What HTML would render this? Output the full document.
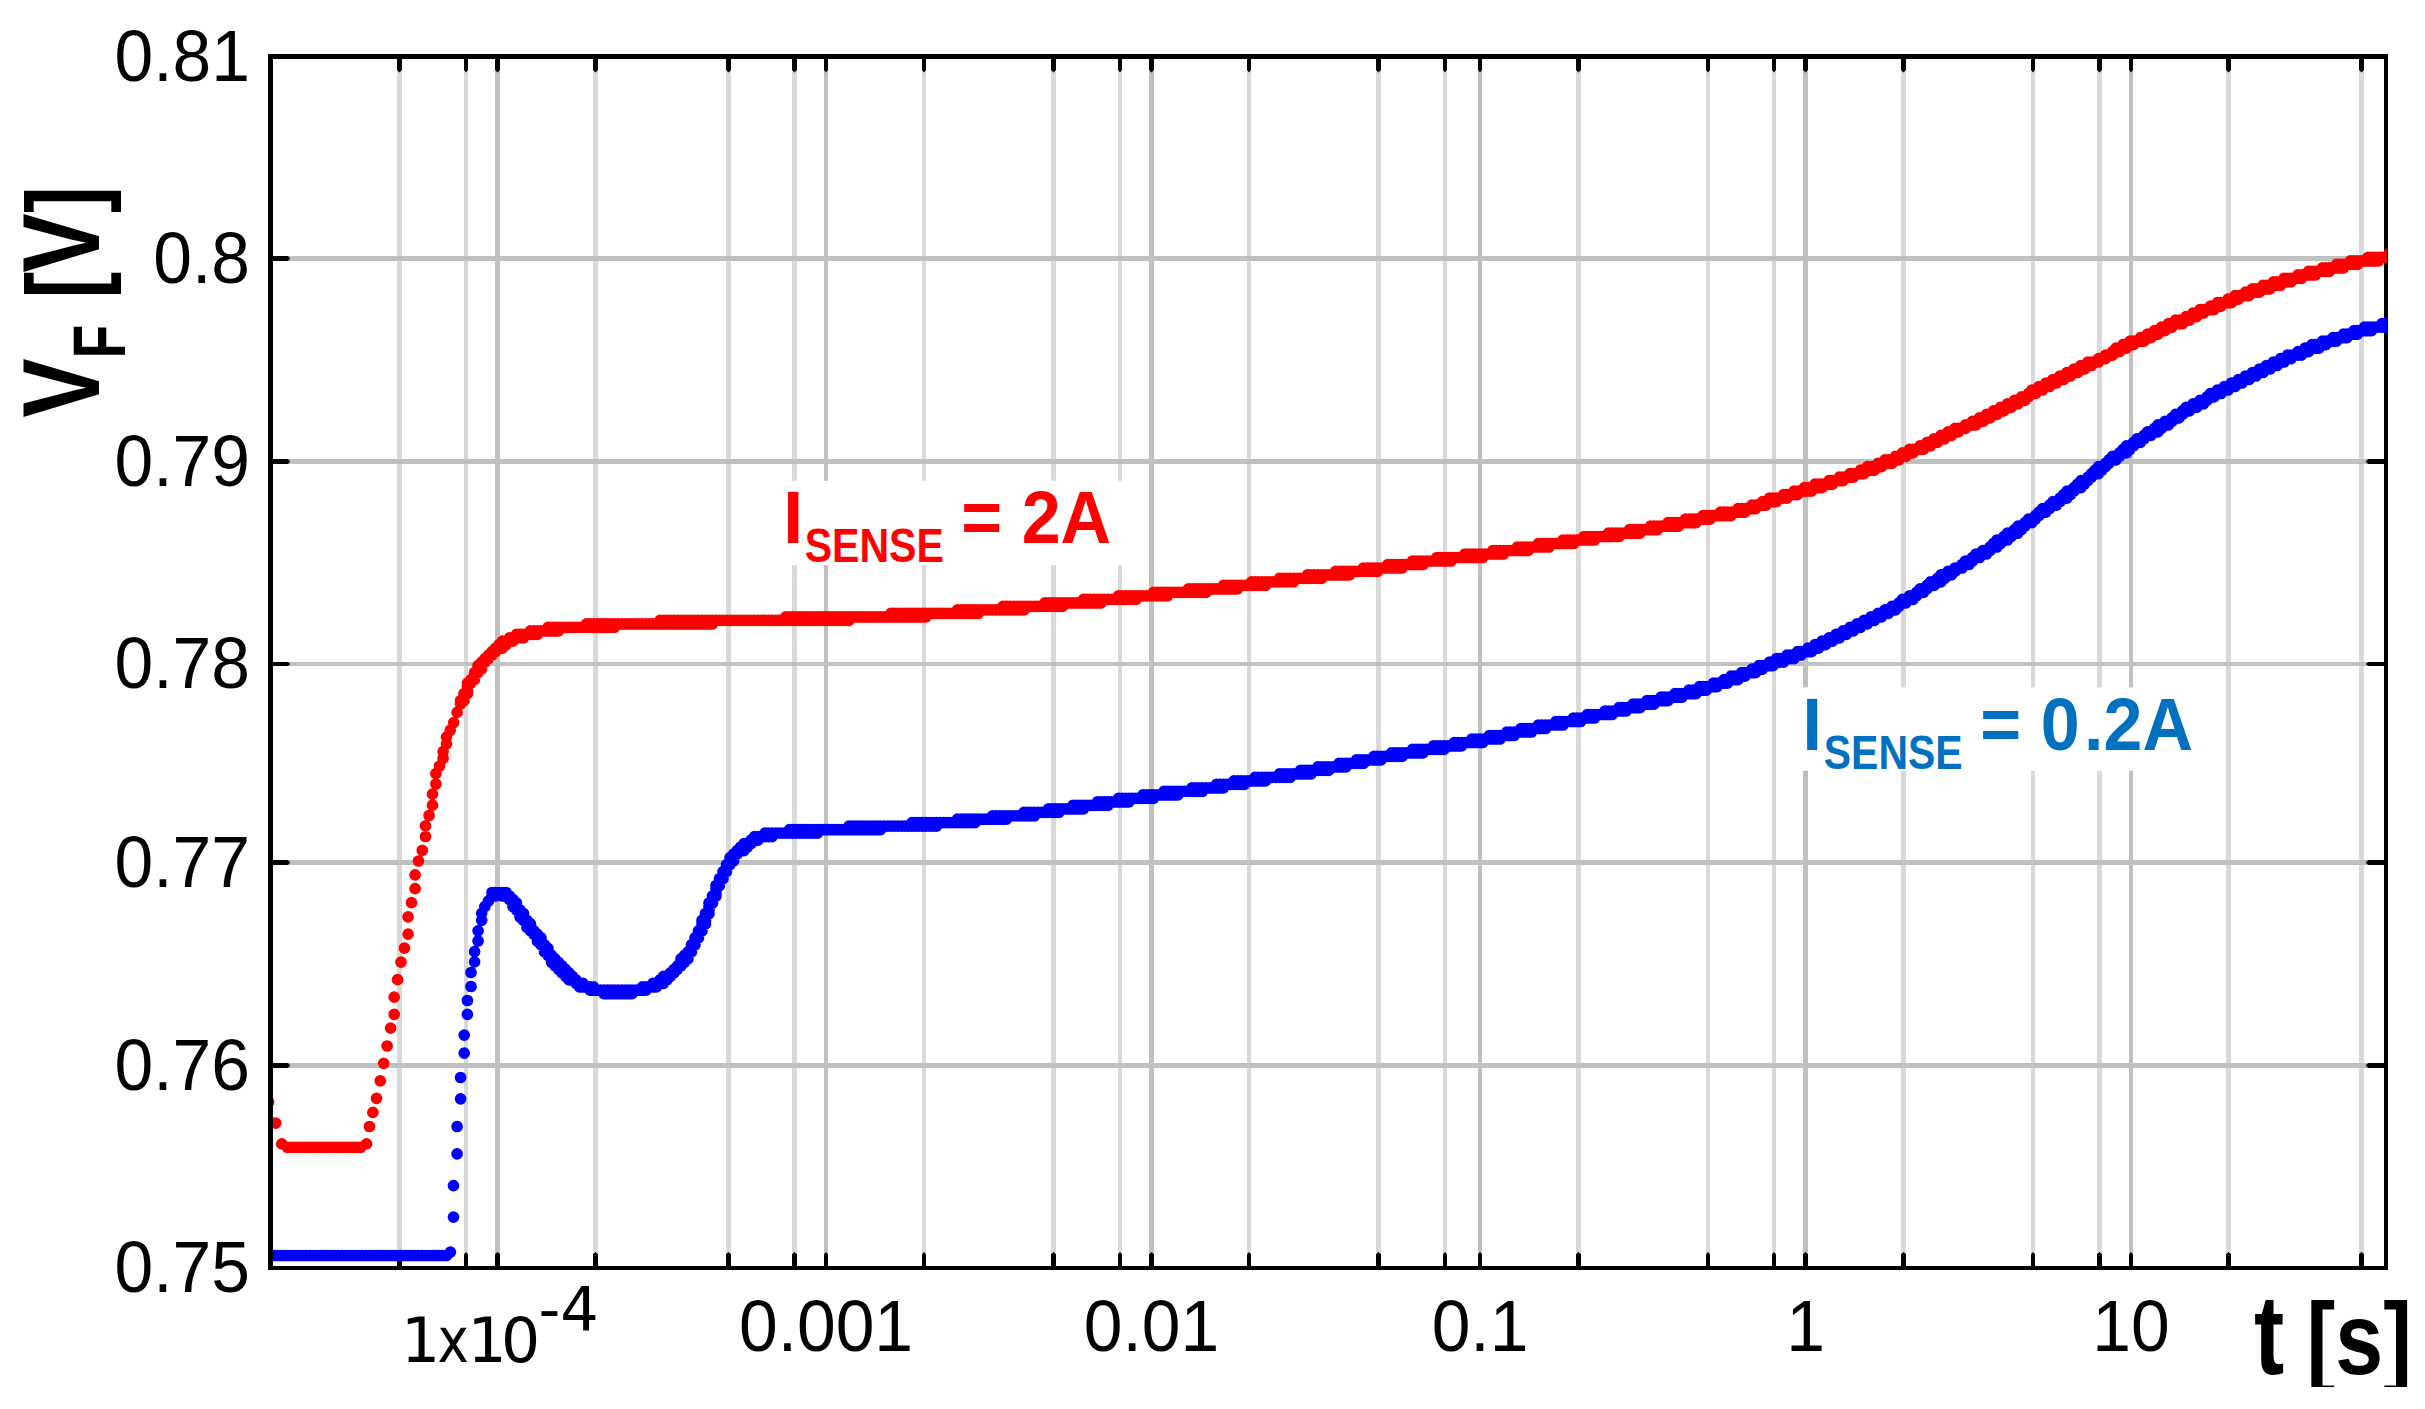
<!DOCTYPE html>
<html lang="en"><head><meta charset="utf-8"><title>VF vs t</title>
<style>html,body{margin:0;padding:0;background:#fff;overflow:hidden}svg{display:block}text{font-family:"Liberation Sans",sans-serif}.dv{font-family:"DejaVu Sans","Liberation Sans",sans-serif}</style></head><body>
<svg width="2425" height="1409" viewBox="0 0 2425 1409">
<rect width="2425" height="1409" fill="#fff"/>
<g fill="#d9d9d9"><rect x="397" y="59" width="5" height="1207"/><rect x="464" y="59" width="4" height="1207"/><rect x="593" y="59" width="5" height="1207"/><rect x="726" y="59" width="5" height="1207"/><rect x="792" y="59" width="5" height="1207"/><rect x="922" y="59" width="4" height="1207"/><rect x="1051" y="59" width="5" height="1207"/><rect x="1118" y="59" width="4" height="1207"/><rect x="1247" y="59" width="4" height="1207"/><rect x="1376" y="59" width="5" height="1207"/><rect x="1443" y="59" width="4" height="1207"/><rect x="1576" y="59" width="5" height="1207"/><rect x="1706" y="59" width="4" height="1207"/><rect x="1772" y="59" width="4" height="1207"/><rect x="1901" y="59" width="5" height="1207"/><rect x="2031" y="59" width="4" height="1207"/><rect x="2097" y="59" width="5" height="1207"/><rect x="2226" y="59" width="5" height="1207"/><rect x="2359" y="59" width="5" height="1207"/></g>
<g fill="#c0c0c0"><rect x="495" y="59" width="5" height="1207"/><rect x="824" y="59" width="4" height="1207"/><rect x="1149" y="59" width="5" height="1207"/><rect x="1478" y="59" width="4" height="1207"/><rect x="1803" y="59" width="5" height="1207"/><rect x="2129" y="59" width="4" height="1207"/><rect x="273" y="256" width="2111" height="5"/><rect x="273" y="459" width="2111" height="5"/><rect x="273" y="662" width="2111" height="4"/><rect x="273" y="860" width="2111" height="5"/><rect x="273" y="1063" width="2111" height="5"/></g>
<g fill="#000"><rect x="268" y="54" width="5" height="1216"/><rect x="2384" y="54" width="4" height="1216"/><rect x="268" y="54" width="2120" height="5"/><rect x="268" y="1266" width="2120" height="4"/><path d="M397 59H402V70L399.5 72.4L397 70Z"/><path d="M397 1266H402V1254.3L399.5 1252L397 1254.3Z"/><path d="M464 59H468V70L466.0 72.4L464 70Z"/><path d="M464 1266H468V1254.3L466.0 1252L464 1254.3Z"/><path d="M593 59H598V70L595.5 72.4L593 70Z"/><path d="M593 1266H598V1254.3L595.5 1252L593 1254.3Z"/><path d="M726 59H731V70L728.5 72.4L726 70Z"/><path d="M726 1266H731V1254.3L728.5 1252L726 1254.3Z"/><path d="M792 59H797V70L794.5 72.4L792 70Z"/><path d="M792 1266H797V1254.3L794.5 1252L792 1254.3Z"/><path d="M922 59H926V70L924.0 72.4L922 70Z"/><path d="M922 1266H926V1254.3L924.0 1252L922 1254.3Z"/><path d="M1051 59H1056V70L1053.5 72.4L1051 70Z"/><path d="M1051 1266H1056V1254.3L1053.5 1252L1051 1254.3Z"/><path d="M1118 59H1122V70L1120.0 72.4L1118 70Z"/><path d="M1118 1266H1122V1254.3L1120.0 1252L1118 1254.3Z"/><path d="M1247 59H1251V70L1249.0 72.4L1247 70Z"/><path d="M1247 1266H1251V1254.3L1249.0 1252L1247 1254.3Z"/><path d="M1376 59H1381V70L1378.5 72.4L1376 70Z"/><path d="M1376 1266H1381V1254.3L1378.5 1252L1376 1254.3Z"/><path d="M1443 59H1447V70L1445.0 72.4L1443 70Z"/><path d="M1443 1266H1447V1254.3L1445.0 1252L1443 1254.3Z"/><path d="M1576 59H1581V70L1578.5 72.4L1576 70Z"/><path d="M1576 1266H1581V1254.3L1578.5 1252L1576 1254.3Z"/><path d="M1706 59H1710V70L1708.0 72.4L1706 70Z"/><path d="M1706 1266H1710V1254.3L1708.0 1252L1706 1254.3Z"/><path d="M1772 59H1776V70L1774.0 72.4L1772 70Z"/><path d="M1772 1266H1776V1254.3L1774.0 1252L1772 1254.3Z"/><path d="M1901 59H1906V70L1903.5 72.4L1901 70Z"/><path d="M1901 1266H1906V1254.3L1903.5 1252L1901 1254.3Z"/><path d="M2031 59H2035V70L2033.0 72.4L2031 70Z"/><path d="M2031 1266H2035V1254.3L2033.0 1252L2031 1254.3Z"/><path d="M2097 59H2102V70L2099.5 72.4L2097 70Z"/><path d="M2097 1266H2102V1254.3L2099.5 1252L2097 1254.3Z"/><path d="M2226 59H2231V70L2228.5 72.4L2226 70Z"/><path d="M2226 1266H2231V1254.3L2228.5 1252L2226 1254.3Z"/><path d="M2359 59H2364V70L2361.5 72.4L2359 70Z"/><path d="M2359 1266H2364V1254.3L2361.5 1252L2359 1254.3Z"/><path d="M495 59H500V70L497.5 72.4L495 70Z"/><path d="M495 1266H500V1254.3L497.5 1252L495 1254.3Z"/><path d="M824 59H828V70L826.0 72.4L824 70Z"/><path d="M824 1266H828V1254.3L826.0 1252L824 1254.3Z"/><path d="M1149 59H1154V70L1151.5 72.4L1149 70Z"/><path d="M1149 1266H1154V1254.3L1151.5 1252L1149 1254.3Z"/><path d="M1478 59H1482V70L1480.0 72.4L1478 70Z"/><path d="M1478 1266H1482V1254.3L1480.0 1252L1478 1254.3Z"/><path d="M1803 59H1808V70L1805.5 72.4L1803 70Z"/><path d="M1803 1266H1808V1254.3L1805.5 1252L1803 1254.3Z"/><path d="M2129 59H2133V70L2131.0 72.4L2129 70Z"/><path d="M2129 1266H2133V1254.3L2131.0 1252L2129 1254.3Z"/><path d="M273 256H288L290.2 258.5L288 261H273Z"/><path d="M2384 256H2368L2365.8 258.5L2368 261H2384Z"/><path d="M273 459H288L290.2 461.5L288 464H273Z"/><path d="M2384 459H2368L2365.8 461.5L2368 464H2384Z"/><path d="M273 662H288L290.2 664.0L288 666H273Z"/><path d="M2384 662H2368L2365.8 664.0L2368 666H2384Z"/><path d="M273 860H288L290.2 862.5L288 865H273Z"/><path d="M2384 860H2368L2365.8 862.5L2368 865H2384Z"/><path d="M273 1063H288L290.2 1065.5L288 1068H273Z"/><path d="M2384 1063H2368L2365.8 1065.5L2368 1068H2384Z"/></g>
<defs><clipPath id="pc"><rect x="273" y="59" width="2114.4" height="1207"/></clipPath></defs>
<g clip-path="url(#pc)" fill="none" stroke-linecap="round" stroke-width="11.7"><path stroke="#f00" d="M268.6 1102.2h0M275.7 1123.1h0M281.8 1143.9h0M287.3 1147.3h0M290.8 1147.3h0M294.3 1147.3h0M297.8 1147.3h0M301.3 1147.3h0M304.8 1147.3h0M308.3 1147.3h0M311.8 1147.3h0M315.3 1147.3h0M318.8 1147.3h0M322.3 1147.3h0M325.8 1147.3h0M329.3 1147.3h0M332.8 1147.3h0M336.3 1147.3h0M339.8 1147.3h0M343.3 1147.3h0M346.8 1147.3h0M350.3 1147.3h0M353.8 1147.3h0M357.3 1147.3h0M360.8 1147.3h0M366.5 1143.9h0M369.5 1126.5h0M372.9 1112.4h0M376.5 1098.3h0M380.3 1080.9h0M383.7 1063.3h0M387.1 1046.0h0M390.6 1028.2h0M394.2 1014.3h0M394.2 997.2h0M397.6 979.7h0M401.0 962.2h0M404.4 948.2h0M408.1 934.2h0M408.1 916.8h0M411.5 902.7h0M415.1 888.7h0M415.1 874.9h0M418.5 861.0h0M422.3 850.4h0M425.5 836.5h0M425.5 825.9h0M429.1 815.5h0M432.5 805.1h0M432.5 794.2h0M435.9 784.0h0M435.9 773.7h0M439.5 766.1h0M443.1 758.4h0M443.1 751.6h0M446.5 743.9h0M446.5 737.1h0M450.2 730.3h0M453.7 722.6h0M457.1 712.4h0M460.8 702.2h0M460.5 700.6h0M460.5 704.1h0M464.0 697.1h0M464.0 700.6h0M464.0 693.6h0M467.5 690.1h0M467.5 693.6h0M467.5 686.6h0M467.5 683.1h0M471.0 683.1h0M471.0 679.6h0M474.5 676.1h0M474.5 679.6h0M474.5 672.7h0M478.0 672.7h0M478.0 669.2h0M478.0 665.7h0M481.5 665.7h0M481.5 669.2h0M481.5 662.2h0M485.0 662.2h0M485.0 658.7h0M488.5 658.7h0M488.5 655.2h0M492.0 655.2h0M492.0 651.7h0M495.5 651.7h0M495.5 648.2h0M499.0 648.2h0M499.0 644.7h0M502.5 644.7h0M502.5 648.2h0M502.5 641.2h0M506.0 641.2h0M506.0 644.7h0M509.5 641.2h0M509.5 637.8h0M513.0 637.8h0M513.0 641.2h0M516.5 637.8h0M516.5 634.3h0M520.0 634.3h0M520.0 637.8h0M523.5 634.3h0M523.5 637.8h0M527.0 634.3h0M530.5 630.8h0M530.5 634.3h0M534.0 630.8h0M534.0 634.3h0M537.5 630.8h0M537.5 634.3h0M541.0 630.8h0M544.5 630.8h0M548.0 630.8h0M548.0 627.3h0M551.5 627.3h0M551.5 630.8h0M555.0 627.3h0M555.0 630.8h0M558.5 627.3h0M558.5 630.8h0M562.0 627.3h0M565.5 627.3h0M569.0 627.3h0M572.5 627.3h0M576.0 627.3h0M579.5 627.3h0M583.0 627.3h0M586.5 627.3h0M586.5 623.8h0M590.0 623.8h0M590.0 627.3h0M593.5 623.8h0M593.5 627.3h0M597.0 623.8h0M597.0 627.3h0M600.5 623.8h0M600.5 627.3h0M604.0 623.8h0M604.0 627.3h0M607.5 623.8h0M607.5 627.3h0M611.0 623.8h0M611.0 627.3h0M614.5 623.8h0M614.5 627.3h0M618.0 623.8h0M621.5 623.8h0M625.0 623.8h0M628.5 623.8h0M632.0 623.8h0M635.5 623.8h0M639.0 623.8h0M642.5 623.8h0M646.0 623.8h0M649.5 623.8h0M653.0 623.8h0M656.5 623.8h0M660.0 620.3h0M660.0 623.8h0M663.5 620.3h0M663.5 623.8h0M667.0 620.3h0M667.0 623.8h0M670.5 620.3h0M670.5 623.8h0M674.0 620.3h0M674.0 623.8h0M677.5 620.3h0M677.5 623.8h0M681.0 620.3h0M681.0 623.8h0M684.5 620.3h0M684.5 623.8h0M688.0 620.3h0M688.0 623.8h0M691.5 620.3h0M691.5 623.8h0M695.0 620.3h0M695.0 623.8h0M698.5 620.3h0M698.5 623.8h0M702.0 620.3h0M702.0 623.8h0M705.5 620.3h0M705.5 623.8h0M709.0 620.3h0M709.0 623.8h0M712.5 620.3h0M712.5 623.8h0M716.0 620.3h0M719.5 620.3h0M723.0 620.3h0M726.5 620.3h0M730.0 620.3h0M733.5 620.3h0M737.0 620.3h0M740.5 620.3h0M744.0 620.3h0M747.5 620.3h0M751.0 620.3h0M754.5 620.3h0M758.0 620.3h0M761.5 620.3h0M765.0 620.3h0M768.5 620.3h0M772.0 620.3h0M775.5 620.3h0M779.0 620.3h0M782.5 620.3h0M786.0 620.3h0M786.0 616.8h0M789.5 616.8h0M789.5 620.3h0M793.0 616.8h0M793.0 620.3h0M796.5 616.8h0M796.5 620.3h0M800.0 616.8h0M800.0 620.3h0M803.5 616.8h0M803.5 620.3h0M807.0 616.8h0M807.0 620.3h0M810.5 616.8h0M810.5 620.3h0M814.0 616.8h0M814.0 620.3h0M817.5 616.8h0M817.5 620.3h0M821.0 616.8h0M821.0 620.3h0M824.5 616.8h0M824.5 620.3h0M828.0 616.8h0M828.0 620.3h0M831.5 616.8h0M831.5 620.3h0M835.0 616.8h0M835.0 620.3h0M838.5 616.8h0M838.5 620.3h0M842.0 616.8h0M842.0 620.3h0M845.5 616.8h0M845.5 620.3h0M849.0 616.8h0M849.0 620.3h0M852.5 616.8h0M856.0 616.8h0M859.5 616.8h0M863.0 616.8h0M866.5 616.8h0M870.0 616.8h0M873.5 616.8h0M877.0 616.8h0M880.5 616.8h0M884.0 616.8h0M887.5 616.8h0M891.0 616.8h0M891.0 613.3h0M894.5 613.3h0M894.5 616.8h0M898.0 613.3h0M898.0 616.8h0M901.5 613.3h0M901.5 616.8h0M905.0 613.3h0M905.0 616.8h0M908.5 613.3h0M908.5 616.8h0M912.0 613.3h0M912.0 616.8h0M915.5 613.3h0M915.5 616.8h0M919.0 613.3h0M919.0 616.8h0M922.5 613.3h0M922.5 616.8h0M926.0 613.3h0M926.0 616.8h0M929.5 613.3h0M933.0 613.3h0M936.5 613.3h0M940.0 613.3h0M943.5 613.3h0M947.0 613.3h0M950.5 613.3h0M954.0 613.3h0M957.5 609.8h0M957.5 613.3h0M961.0 609.8h0M961.0 613.3h0M964.5 609.8h0M964.5 613.3h0M968.0 609.8h0M968.0 613.3h0M971.5 609.8h0M971.5 613.3h0M975.0 609.8h0M975.0 613.3h0M978.5 609.8h0M978.5 613.3h0M982.0 609.8h0M985.5 609.8h0M989.0 609.8h0M992.5 609.8h0M996.0 609.8h0M999.5 609.8h0M1003.0 609.8h0M1003.0 606.3h0M1006.5 606.3h0M1006.5 609.8h0M1010.0 606.3h0M1010.0 609.8h0M1013.5 606.3h0M1013.5 609.8h0M1017.0 606.3h0M1017.0 609.8h0M1020.5 606.3h0M1020.5 609.8h0M1024.0 606.3h0M1024.0 609.8h0M1027.5 606.3h0M1031.0 606.3h0M1034.5 606.3h0M1038.0 606.3h0M1041.5 606.3h0M1045.0 602.9h0M1045.0 606.3h0M1048.5 602.9h0M1048.5 606.3h0M1052.0 602.9h0M1052.0 606.3h0M1055.5 602.9h0M1055.5 606.3h0M1059.0 602.9h0M1059.0 606.3h0M1062.5 602.9h0M1062.5 606.3h0M1066.0 602.9h0M1069.5 602.9h0M1073.0 602.9h0M1076.5 602.9h0M1080.0 602.9h0M1083.5 602.9h0M1083.5 599.4h0M1087.0 599.4h0M1087.0 602.9h0M1090.5 599.4h0M1090.5 602.9h0M1094.0 599.4h0M1094.0 602.9h0M1097.5 599.4h0M1097.5 602.9h0M1101.0 599.4h0M1101.0 602.9h0M1104.5 599.4h0M1108.0 599.4h0M1111.5 599.4h0M1115.0 599.4h0M1118.5 599.4h0M1118.5 595.9h0M1122.0 595.9h0M1122.0 599.4h0M1125.5 595.9h0M1125.5 599.4h0M1129.0 595.9h0M1129.0 599.4h0M1132.5 595.9h0M1132.5 599.4h0M1136.0 595.9h0M1136.0 599.4h0M1139.5 595.9h0M1143.0 595.9h0M1146.5 595.9h0M1150.0 595.9h0M1153.5 595.9h0M1153.5 592.4h0M1157.0 592.4h0M1157.0 595.9h0M1160.5 592.4h0M1160.5 595.9h0M1164.0 592.4h0M1164.0 595.9h0M1167.5 592.4h0M1167.5 595.9h0M1171.0 592.4h0M1174.5 592.4h0M1178.0 592.4h0M1181.5 592.4h0M1185.0 592.4h0M1188.5 592.4h0M1188.5 588.9h0M1192.0 588.9h0M1192.0 592.4h0M1195.5 588.9h0M1195.5 592.4h0M1199.0 588.9h0M1199.0 592.4h0M1202.5 588.9h0M1202.5 592.4h0M1206.0 588.9h0M1206.0 592.4h0M1209.5 588.9h0M1213.0 588.9h0M1216.5 588.9h0M1220.0 588.9h0M1223.5 588.9h0M1223.5 585.4h0M1227.0 585.4h0M1227.0 588.9h0M1230.5 585.4h0M1230.5 588.9h0M1234.0 585.4h0M1234.0 588.9h0M1237.5 585.4h0M1237.5 588.9h0M1241.0 585.4h0M1244.5 585.4h0M1248.0 585.4h0M1251.5 585.4h0M1251.5 581.9h0M1255.0 581.9h0M1255.0 585.4h0M1258.5 581.9h0M1258.5 585.4h0M1262.0 581.9h0M1262.0 585.4h0M1265.5 581.9h0M1265.5 585.4h0M1269.0 581.9h0M1272.5 581.9h0M1276.0 581.9h0M1279.5 581.9h0M1279.5 578.4h0M1283.0 578.4h0M1283.0 581.9h0M1286.5 578.4h0M1286.5 581.9h0M1290.0 578.4h0M1290.0 581.9h0M1293.5 578.4h0M1293.5 581.9h0M1297.0 578.4h0M1300.5 578.4h0M1304.0 578.4h0M1307.5 578.4h0M1307.5 574.9h0M1311.0 574.9h0M1311.0 578.4h0M1314.5 574.9h0M1314.5 578.4h0M1318.0 574.9h0M1318.0 578.4h0M1321.5 574.9h0M1321.5 578.4h0M1325.0 574.9h0M1328.5 574.9h0M1332.0 574.9h0M1335.5 574.9h0M1335.5 571.4h0M1339.0 571.4h0M1339.0 574.9h0M1342.5 571.4h0M1342.5 574.9h0M1346.0 571.4h0M1346.0 574.9h0M1349.5 571.4h0M1349.5 574.9h0M1353.0 571.4h0M1356.5 571.4h0M1360.0 571.4h0M1363.5 571.4h0M1363.5 568.0h0M1367.0 568.0h0M1367.0 571.4h0M1370.5 568.0h0M1370.5 571.4h0M1374.0 568.0h0M1374.0 571.4h0M1377.5 568.0h0M1377.5 571.4h0M1381.0 568.0h0M1384.5 568.0h0M1388.0 568.0h0M1388.0 564.5h0M1391.5 564.5h0M1391.5 568.0h0M1395.0 564.5h0M1395.0 568.0h0M1398.5 564.5h0M1398.5 568.0h0M1402.0 564.5h0M1402.0 568.0h0M1405.5 564.5h0M1409.0 564.5h0M1412.5 564.5h0M1412.5 561.0h0M1416.0 561.0h0M1416.0 564.5h0M1419.5 561.0h0M1419.5 564.5h0M1423.0 561.0h0M1423.0 564.5h0M1426.5 561.0h0M1430.0 561.0h0M1433.5 561.0h0M1437.0 561.0h0M1437.0 557.5h0M1440.5 557.5h0M1440.5 561.0h0M1444.0 557.5h0M1444.0 561.0h0M1447.5 557.5h0M1447.5 561.0h0M1451.0 557.5h0M1451.0 561.0h0M1454.5 557.5h0M1458.0 557.5h0M1461.5 557.5h0M1465.0 557.5h0M1465.0 554.0h0M1468.5 554.0h0M1468.5 557.5h0M1472.0 554.0h0M1472.0 557.5h0M1475.5 554.0h0M1475.5 557.5h0M1479.0 554.0h0M1479.0 557.5h0M1482.5 554.0h0M1482.5 557.5h0M1486.0 554.0h0M1489.5 554.0h0M1493.0 554.0h0M1493.0 550.5h0M1496.5 550.5h0M1496.5 554.0h0M1500.0 550.5h0M1500.0 554.0h0M1503.5 550.5h0M1503.5 554.0h0M1507.0 550.5h0M1510.5 550.5h0M1514.0 550.5h0M1517.5 550.5h0M1517.5 547.0h0M1521.0 547.0h0M1521.0 550.5h0M1524.5 547.0h0M1524.5 550.5h0M1528.0 547.0h0M1528.0 550.5h0M1531.5 547.0h0M1535.0 547.0h0M1538.5 547.0h0M1538.5 543.5h0M1542.0 543.5h0M1542.0 547.0h0M1545.5 543.5h0M1545.5 547.0h0M1549.0 543.5h0M1549.0 547.0h0M1552.5 543.5h0M1556.0 543.5h0M1559.5 543.5h0M1563.0 543.5h0M1563.0 540.0h0M1566.5 540.0h0M1566.5 543.5h0M1570.0 540.0h0M1570.0 543.5h0M1573.5 540.0h0M1573.5 543.5h0M1577.0 540.0h0M1580.5 540.0h0M1584.0 540.0h0M1584.0 536.5h0M1587.5 536.5h0M1587.5 540.0h0M1591.0 536.5h0M1591.0 540.0h0M1594.5 536.5h0M1594.5 540.0h0M1598.0 536.5h0M1601.5 536.5h0M1605.0 536.5h0M1608.5 536.5h0M1608.5 533.1h0M1612.0 533.1h0M1612.0 536.5h0M1615.5 533.1h0M1615.5 536.5h0M1619.0 533.1h0M1619.0 536.5h0M1622.5 533.1h0M1626.0 533.1h0M1629.5 533.1h0M1629.5 529.6h0M1633.0 529.6h0M1633.0 533.1h0M1636.5 529.6h0M1636.5 533.1h0M1640.0 529.6h0M1640.0 533.1h0M1643.5 529.6h0M1647.0 529.6h0M1650.5 529.6h0M1650.5 526.1h0M1654.0 526.1h0M1654.0 529.6h0M1657.5 526.1h0M1657.5 529.6h0M1661.0 526.1h0M1664.5 526.1h0M1668.0 526.1h0M1668.0 522.6h0M1671.5 522.6h0M1671.5 526.1h0M1675.0 522.6h0M1675.0 526.1h0M1678.5 522.6h0M1678.5 526.1h0M1682.0 522.6h0M1685.5 522.6h0M1685.5 519.1h0M1689.0 519.1h0M1689.0 522.6h0M1692.5 519.1h0M1692.5 522.6h0M1696.0 519.1h0M1696.0 522.6h0M1699.5 519.1h0M1703.0 519.1h0M1703.0 515.6h0M1706.5 515.6h0M1706.5 519.1h0M1710.0 515.6h0M1710.0 519.1h0M1713.5 515.6h0M1717.0 515.6h0M1720.5 515.6h0M1720.5 512.1h0M1724.0 512.1h0M1724.0 515.6h0M1727.5 512.1h0M1727.5 515.6h0M1731.0 512.1h0M1731.0 515.6h0M1734.5 512.1h0M1738.0 512.1h0M1738.0 508.6h0M1741.5 508.6h0M1741.5 512.1h0M1745.0 508.6h0M1745.0 512.1h0M1748.5 508.6h0M1752.0 505.1h0M1752.0 508.6h0M1755.5 505.1h0M1755.5 508.6h0M1759.0 505.1h0M1762.5 505.1h0M1762.5 501.6h0M1766.0 501.6h0M1766.0 505.1h0M1769.5 501.6h0M1769.5 498.2h0M1773.0 498.2h0M1773.0 501.6h0M1776.5 498.2h0M1776.5 501.6h0M1780.0 498.2h0M1783.5 498.2h0M1783.5 494.7h0M1787.0 494.7h0M1787.0 498.2h0M1790.5 494.7h0M1794.0 494.7h0M1794.0 491.2h0M1797.5 491.2h0M1797.5 494.7h0M1801.0 491.2h0M1804.5 491.2h0M1804.5 487.7h0M1808.0 487.7h0M1808.0 491.2h0M1811.5 487.7h0M1811.5 491.2h0M1815.0 487.7h0M1815.0 484.2h0M1818.5 484.2h0M1818.5 487.7h0M1822.0 484.2h0M1822.0 487.7h0M1825.5 484.2h0M1829.0 480.7h0M1829.0 484.2h0M1832.5 480.7h0M1832.5 484.2h0M1836.0 480.7h0M1839.5 480.7h0M1839.5 477.2h0M1843.0 477.2h0M1843.0 480.7h0M1846.5 477.2h0M1850.0 477.2h0M1850.0 473.7h0M1853.5 473.7h0M1853.5 477.2h0M1857.0 473.7h0M1860.5 473.7h0M1860.5 470.2h0M1864.0 470.2h0M1864.0 473.7h0M1867.5 470.2h0M1867.5 466.7h0M1871.0 466.7h0M1871.0 470.2h0M1874.5 466.7h0M1874.5 470.2h0M1878.0 466.7h0M1878.0 463.3h0M1881.5 463.3h0M1881.5 466.7h0M1885.0 463.3h0M1885.0 459.8h0M1888.5 459.8h0M1888.5 463.3h0M1892.0 459.8h0M1892.0 463.3h0M1895.5 459.8h0M1895.5 456.3h0M1899.0 456.3h0M1899.0 459.8h0M1902.5 456.3h0M1902.5 452.8h0M1906.0 452.8h0M1906.0 456.3h0M1909.5 452.8h0M1909.5 449.3h0M1913.0 449.3h0M1913.0 452.8h0M1916.5 449.3h0M1920.0 449.3h0M1920.0 445.8h0M1923.5 445.8h0M1923.5 449.3h0M1927.0 445.8h0M1927.0 442.3h0M1930.5 442.3h0M1930.5 445.8h0M1934.0 442.3h0M1934.0 438.8h0M1937.5 438.8h0M1937.5 442.3h0M1941.0 438.8h0M1941.0 435.3h0M1944.5 435.3h0M1944.5 438.8h0M1948.0 435.3h0M1948.0 431.8h0M1951.5 431.8h0M1951.5 435.3h0M1955.0 431.8h0M1955.0 428.4h0M1958.5 428.4h0M1958.5 431.8h0M1962.0 428.4h0M1965.5 424.9h0M1965.5 428.4h0M1969.0 424.9h0M1972.5 424.9h0M1972.5 421.4h0M1976.0 421.4h0M1976.0 424.9h0M1979.5 421.4h0M1979.5 417.9h0M1983.0 417.9h0M1983.0 421.4h0M1986.5 417.9h0M1986.5 414.4h0M1990.0 414.4h0M1990.0 417.9h0M1993.5 414.4h0M1993.5 410.9h0M1997.0 410.9h0M1997.0 414.4h0M2000.5 410.9h0M2000.5 407.4h0M2004.0 407.4h0M2004.0 410.9h0M2007.5 407.4h0M2007.5 403.9h0M2011.0 403.9h0M2011.0 407.4h0M2014.5 403.9h0M2014.5 400.4h0M2018.0 400.4h0M2018.0 403.9h0M2021.5 400.4h0M2021.5 396.9h0M2025.0 396.9h0M2025.0 400.4h0M2028.5 396.9h0M2028.5 393.5h0M2032.0 393.5h0M2032.0 390.0h0M2035.5 390.0h0M2035.5 393.5h0M2039.0 390.0h0M2039.0 386.5h0M2042.5 386.5h0M2042.5 390.0h0M2046.0 386.5h0M2046.0 383.0h0M2049.5 383.0h0M2049.5 386.5h0M2053.0 383.0h0M2053.0 379.5h0M2056.5 379.5h0M2056.5 383.0h0M2060.0 379.5h0M2060.0 376.0h0M2063.5 376.0h0M2063.5 379.5h0M2067.0 376.0h0M2067.0 372.5h0M2070.5 372.5h0M2070.5 376.0h0M2074.0 372.5h0M2074.0 369.0h0M2077.5 369.0h0M2077.5 372.5h0M2081.0 369.0h0M2081.0 365.5h0M2084.5 365.5h0M2084.5 369.0h0M2088.0 365.5h0M2088.0 362.0h0M2091.5 362.0h0M2091.5 365.5h0M2095.0 362.0h0M2098.5 358.6h0M2098.5 362.0h0M2102.0 358.6h0M2105.5 355.1h0M2105.5 358.6h0M2109.0 355.1h0M2112.5 351.6h0M2112.5 355.1h0M2116.0 351.6h0M2116.0 348.1h0M2119.5 348.1h0M2119.5 351.6h0M2123.0 348.1h0M2123.0 344.6h0M2126.5 344.6h0M2126.5 348.1h0M2130.0 344.6h0M2130.0 341.1h0M2133.5 341.1h0M2133.5 344.6h0M2137.0 341.1h0M2140.5 341.1h0M2140.5 337.6h0M2144.0 337.6h0M2144.0 341.1h0M2147.5 337.6h0M2147.5 334.1h0M2151.0 334.1h0M2151.0 337.6h0M2154.5 334.1h0M2154.5 330.6h0M2158.0 330.6h0M2158.0 334.1h0M2161.5 330.6h0M2161.5 327.1h0M2165.0 327.1h0M2165.0 330.6h0M2168.5 327.1h0M2168.5 323.7h0M2172.0 323.7h0M2172.0 327.1h0M2175.5 323.7h0M2175.5 320.2h0M2179.0 320.2h0M2179.0 323.7h0M2182.5 320.2h0M2182.5 323.7h0M2186.0 320.2h0M2186.0 316.7h0M2189.5 316.7h0M2189.5 320.2h0M2193.0 316.7h0M2193.0 313.2h0M2196.5 313.2h0M2196.5 316.7h0M2200.0 313.2h0M2200.0 309.7h0M2203.5 309.7h0M2203.5 313.2h0M2207.0 309.7h0M2210.5 309.7h0M2210.5 306.2h0M2214.0 306.2h0M2214.0 309.7h0M2217.5 306.2h0M2217.5 302.7h0M2221.0 302.7h0M2221.0 306.2h0M2224.5 302.7h0M2228.0 299.2h0M2228.0 302.7h0M2231.5 299.2h0M2231.5 302.7h0M2235.0 299.2h0M2235.0 295.7h0M2238.5 295.7h0M2238.5 299.2h0M2242.0 295.7h0M2245.5 295.7h0M2245.5 292.2h0M2249.0 292.2h0M2249.0 295.7h0M2252.5 292.2h0M2252.5 288.8h0M2256.0 288.8h0M2256.0 292.2h0M2259.5 288.8h0M2259.5 292.2h0M2263.0 288.8h0M2263.0 285.3h0M2266.5 285.3h0M2266.5 288.8h0M2270.0 285.3h0M2270.0 288.8h0M2273.5 285.3h0M2273.5 281.8h0M2277.0 281.8h0M2277.0 285.3h0M2280.5 281.8h0M2280.5 285.3h0M2284.0 281.8h0M2284.0 278.3h0M2287.5 278.3h0M2287.5 281.8h0M2291.0 278.3h0M2291.0 281.8h0M2294.5 278.3h0M2298.0 278.3h0M2298.0 274.8h0M2301.5 274.8h0M2301.5 278.3h0M2305.0 274.8h0M2308.5 274.8h0M2308.5 271.3h0M2312.0 271.3h0M2312.0 274.8h0M2315.5 271.3h0M2315.5 274.8h0M2319.0 271.3h0M2322.5 271.3h0M2322.5 267.8h0M2326.0 267.8h0M2326.0 271.3h0M2329.5 267.8h0M2329.5 271.3h0M2333.0 267.8h0M2336.5 267.8h0M2336.5 264.3h0M2340.0 264.3h0M2340.0 267.8h0M2343.5 264.3h0M2343.5 267.8h0M2347.0 264.3h0M2350.5 264.3h0M2350.5 260.8h0M2354.0 260.8h0M2354.0 264.3h0M2357.5 260.8h0M2357.5 264.3h0M2361.0 260.8h0M2364.5 260.8h0M2368.0 260.8h0M2368.0 257.3h0M2371.5 257.3h0M2371.5 260.8h0M2375.0 257.3h0M2375.0 260.8h0M2378.5 257.3h0M2378.5 260.8h0M2382.0 257.3h0M2385.5 257.3h0M2389.0 257.3h0M2389.0 253.9h0M2392.5 253.9h0M2392.5 257.3h0"/>
<path stroke="#00f" d="M268.0 1255.5h0M271.5 1255.5h0M275.0 1255.5h0M278.5 1255.5h0M282.0 1255.5h0M285.5 1255.5h0M289.0 1255.5h0M292.5 1255.5h0M296.0 1255.5h0M299.5 1255.5h0M303.0 1255.5h0M306.5 1255.5h0M310.0 1255.5h0M313.5 1255.5h0M317.0 1255.5h0M320.5 1255.5h0M324.0 1255.5h0M327.5 1255.5h0M331.0 1255.5h0M334.5 1255.5h0M338.0 1255.5h0M341.5 1255.5h0M345.0 1255.5h0M348.5 1255.5h0M352.0 1255.5h0M355.5 1255.5h0M359.0 1255.5h0M362.5 1255.5h0M366.0 1255.5h0M369.5 1255.5h0M373.0 1255.5h0M376.5 1255.5h0M380.0 1255.5h0M383.5 1255.5h0M387.0 1255.5h0M390.5 1255.5h0M394.0 1255.5h0M397.5 1255.5h0M401.0 1255.5h0M404.5 1255.5h0M408.0 1255.5h0M411.5 1255.5h0M415.0 1255.5h0M418.5 1255.5h0M422.0 1255.5h0M425.5 1255.5h0M429.0 1255.5h0M432.5 1255.5h0M436.0 1255.5h0M439.5 1255.5h0M443.0 1255.5h0M446.5 1255.5h0M450.4 1252.1h0M453.5 1217.1h0M453.5 1185.6h0M457.1 1153.8h0M457.1 1126.5h0M460.6 1098.8h0M460.6 1077.5h0M464.2 1053.1h0M464.2 1035.1h0M467.4 1014.3h0M467.4 1000.5h0M471.0 986.5h0M471.0 972.5h0M474.6 961.8h0M474.6 951.6h0M478.1 941.0h0M478.1 930.8h0M481.7 920.3h0M481.7 913.3h0M484.8 906.7h0M488.4 901.2h0M491.9 896.3h0M492.0 896.0h0M492.0 892.5h0M495.5 892.5h0M495.5 896.0h0M499.0 892.5h0M502.5 892.5h0M502.5 896.0h0M506.0 892.5h0M506.0 896.0h0M509.5 896.0h0M509.5 899.5h0M513.0 899.5h0M513.0 903.0h0M513.0 906.5h0M516.5 903.0h0M516.5 906.5h0M516.5 910.0h0M520.0 910.0h0M520.0 913.5h0M520.0 917.0h0M523.5 913.5h0M523.5 917.0h0M523.5 920.4h0M527.0 920.4h0M527.0 923.9h0M527.0 927.4h0M530.5 923.9h0M530.5 927.4h0M530.5 930.9h0M534.0 930.9h0M534.0 934.4h0M537.5 934.4h0M537.5 937.9h0M537.5 941.4h0M541.0 937.9h0M541.0 941.4h0M541.0 944.9h0M544.5 944.9h0M544.5 948.4h0M544.5 951.9h0M548.0 948.4h0M548.0 951.9h0M548.0 955.3h0M551.5 955.3h0M551.5 958.8h0M551.5 962.3h0M555.0 958.8h0M555.0 962.3h0M555.0 965.8h0M558.5 962.3h0M558.5 965.8h0M558.5 969.3h0M562.0 965.8h0M562.0 969.3h0M562.0 972.8h0M565.5 969.3h0M565.5 972.8h0M565.5 976.3h0M569.0 972.8h0M569.0 976.3h0M569.0 979.8h0M572.5 976.3h0M572.5 979.8h0M576.0 979.8h0M576.0 983.3h0M579.5 983.3h0M579.5 986.8h0M583.0 983.3h0M583.0 986.8h0M586.5 986.8h0M590.0 986.8h0M590.0 990.2h0M593.5 986.8h0M593.5 990.2h0M597.0 990.2h0M600.5 990.2h0M604.0 990.2h0M604.0 993.7h0M607.5 990.2h0M607.5 993.7h0M611.0 990.2h0M611.0 993.7h0M614.5 990.2h0M614.5 993.7h0M618.0 990.2h0M618.0 993.7h0M621.5 990.2h0M621.5 993.7h0M625.0 990.2h0M625.0 993.7h0M628.5 990.2h0M628.5 993.7h0M632.0 990.2h0M632.0 993.7h0M635.5 990.2h0M639.0 990.2h0M642.5 990.2h0M642.5 986.8h0M646.0 986.8h0M646.0 990.2h0M649.5 986.8h0M653.0 983.3h0M653.0 986.8h0M656.5 983.3h0M656.5 986.8h0M660.0 983.3h0M660.0 979.8h0M663.5 979.8h0M663.5 983.3h0M663.5 976.3h0M667.0 976.3h0M667.0 979.8h0M670.5 976.3h0M670.5 972.8h0M674.0 972.8h0M674.0 969.3h0M677.5 969.3h0M677.5 965.8h0M681.0 962.3h0M681.0 965.8h0M681.0 958.8h0M684.5 958.8h0M684.5 962.3h0M684.5 955.3h0M688.0 955.3h0M688.0 958.8h0M688.0 951.9h0M691.5 951.9h0M691.5 948.4h0M691.5 944.9h0M695.0 944.9h0M695.0 941.4h0M695.0 937.9h0M698.5 934.4h0M698.5 937.9h0M698.5 930.9h0M702.0 927.4h0M702.0 930.9h0M702.0 923.9h0M702.0 920.4h0M705.5 920.4h0M705.5 923.9h0M705.5 917.0h0M705.5 913.5h0M709.0 910.0h0M709.0 913.5h0M709.0 906.5h0M709.0 903.0h0M712.5 903.0h0M712.5 899.5h0M712.5 896.0h0M716.0 892.5h0M716.0 896.0h0M716.0 889.0h0M716.0 885.5h0M719.5 885.5h0M719.5 882.1h0M719.5 878.6h0M723.0 875.1h0M723.0 878.6h0M723.0 871.6h0M726.5 871.6h0M726.5 868.1h0M726.5 864.6h0M730.0 864.6h0M730.0 861.1h0M730.0 857.6h0M733.5 857.6h0M733.5 861.1h0M733.5 854.1h0M737.0 854.1h0M737.0 850.6h0M740.5 850.6h0M740.5 847.2h0M744.0 847.2h0M744.0 850.6h0M744.0 843.7h0M747.5 843.7h0M747.5 847.2h0M751.0 843.7h0M751.0 840.2h0M754.5 840.2h0M754.5 836.7h0M758.0 836.7h0M758.0 840.2h0M761.5 836.7h0M765.0 836.7h0M765.0 833.2h0M768.5 833.2h0M768.5 836.7h0M772.0 833.2h0M772.0 836.7h0M775.5 833.2h0M779.0 833.2h0M782.5 833.2h0M786.0 833.2h0M789.5 833.2h0M789.5 829.7h0M793.0 829.7h0M793.0 833.2h0M796.5 829.7h0M796.5 833.2h0M800.0 829.7h0M800.0 833.2h0M803.5 829.7h0M803.5 833.2h0M807.0 829.7h0M807.0 833.2h0M810.5 829.7h0M810.5 833.2h0M814.0 829.7h0M814.0 833.2h0M817.5 829.7h0M817.5 833.2h0M821.0 829.7h0M824.5 829.7h0M828.0 829.7h0M831.5 829.7h0M835.0 829.7h0M838.5 829.7h0M842.0 829.7h0M845.5 829.7h0M849.0 829.7h0M849.0 826.2h0M852.5 826.2h0M852.5 829.7h0M856.0 826.2h0M856.0 829.7h0M859.5 826.2h0M859.5 829.7h0M863.0 826.2h0M863.0 829.7h0M866.5 826.2h0M866.5 829.7h0M870.0 826.2h0M870.0 829.7h0M873.5 826.2h0M873.5 829.7h0M877.0 826.2h0M877.0 829.7h0M880.5 826.2h0M880.5 829.7h0M884.0 826.2h0M887.5 826.2h0M891.0 826.2h0M894.5 826.2h0M898.0 826.2h0M901.5 826.2h0M905.0 826.2h0M908.5 826.2h0M912.0 826.2h0M912.0 822.7h0M915.5 822.7h0M915.5 826.2h0M919.0 822.7h0M919.0 826.2h0M922.5 822.7h0M922.5 826.2h0M926.0 822.7h0M926.0 826.2h0M929.5 822.7h0M929.5 826.2h0M933.0 822.7h0M933.0 826.2h0M936.5 822.7h0M936.5 826.2h0M940.0 822.7h0M943.5 822.7h0M947.0 822.7h0M950.5 822.7h0M954.0 822.7h0M957.5 822.7h0M957.5 819.2h0M961.0 819.2h0M961.0 822.7h0M964.5 819.2h0M964.5 822.7h0M968.0 819.2h0M968.0 822.7h0M971.5 819.2h0M971.5 822.7h0M975.0 819.2h0M975.0 822.7h0M978.5 819.2h0M982.0 819.2h0M985.5 819.2h0M989.0 819.2h0M992.5 819.2h0M992.5 815.8h0M996.0 815.8h0M996.0 819.2h0M999.5 815.8h0M999.5 819.2h0M1003.0 815.8h0M1003.0 819.2h0M1006.5 815.8h0M1006.5 819.2h0M1010.0 815.8h0M1013.5 815.8h0M1017.0 815.8h0M1020.5 815.8h0M1024.0 812.3h0M1024.0 815.8h0M1027.5 812.3h0M1027.5 815.8h0M1031.0 812.3h0M1031.0 815.8h0M1034.5 812.3h0M1034.5 815.8h0M1038.0 812.3h0M1041.5 812.3h0M1045.0 812.3h0M1048.5 812.3h0M1048.5 808.8h0M1052.0 808.8h0M1052.0 812.3h0M1055.5 808.8h0M1055.5 812.3h0M1059.0 808.8h0M1059.0 812.3h0M1062.5 808.8h0M1066.0 808.8h0M1069.5 808.8h0M1073.0 808.8h0M1073.0 805.3h0M1076.5 805.3h0M1076.5 808.8h0M1080.0 805.3h0M1080.0 808.8h0M1083.5 805.3h0M1083.5 808.8h0M1087.0 805.3h0M1090.5 805.3h0M1094.0 805.3h0M1097.5 805.3h0M1097.5 801.8h0M1101.0 801.8h0M1101.0 805.3h0M1104.5 801.8h0M1104.5 805.3h0M1108.0 801.8h0M1108.0 805.3h0M1111.5 801.8h0M1115.0 801.8h0M1118.5 801.8h0M1118.5 798.3h0M1122.0 798.3h0M1122.0 801.8h0M1125.5 798.3h0M1125.5 801.8h0M1129.0 798.3h0M1129.0 801.8h0M1132.5 798.3h0M1136.0 798.3h0M1139.5 798.3h0M1143.0 798.3h0M1143.0 794.8h0M1146.5 794.8h0M1146.5 798.3h0M1150.0 794.8h0M1150.0 798.3h0M1153.5 794.8h0M1153.5 798.3h0M1157.0 794.8h0M1160.5 794.8h0M1164.0 794.8h0M1164.0 791.3h0M1167.5 791.3h0M1167.5 794.8h0M1171.0 791.3h0M1171.0 794.8h0M1174.5 791.3h0M1174.5 794.8h0M1178.0 791.3h0M1178.0 794.8h0M1181.5 791.3h0M1185.0 791.3h0M1188.5 791.3h0M1192.0 791.3h0M1192.0 787.8h0M1195.5 787.8h0M1195.5 791.3h0M1199.0 787.8h0M1199.0 791.3h0M1202.5 787.8h0M1202.5 791.3h0M1206.0 787.8h0M1209.5 787.8h0M1213.0 787.8h0M1216.5 784.3h0M1216.5 787.8h0M1220.0 784.3h0M1220.0 787.8h0M1223.5 784.3h0M1223.5 787.8h0M1227.0 784.3h0M1230.5 784.3h0M1234.0 784.3h0M1234.0 780.8h0M1237.5 780.8h0M1237.5 784.3h0M1241.0 780.8h0M1241.0 784.3h0M1244.5 780.8h0M1244.5 784.3h0M1248.0 780.8h0M1251.5 780.8h0M1255.0 780.8h0M1255.0 777.4h0M1258.5 777.4h0M1258.5 780.8h0M1262.0 777.4h0M1262.0 780.8h0M1265.5 777.4h0M1265.5 780.8h0M1269.0 777.4h0M1272.5 777.4h0M1276.0 777.4h0M1279.5 773.9h0M1279.5 777.4h0M1283.0 773.9h0M1283.0 777.4h0M1286.5 773.9h0M1286.5 777.4h0M1290.0 773.9h0M1290.0 777.4h0M1293.5 773.9h0M1297.0 773.9h0M1300.5 773.9h0M1300.5 770.4h0M1304.0 770.4h0M1304.0 773.9h0M1307.5 770.4h0M1307.5 773.9h0M1311.0 770.4h0M1311.0 773.9h0M1314.5 770.4h0M1318.0 770.4h0M1318.0 766.9h0M1321.5 766.9h0M1321.5 770.4h0M1325.0 766.9h0M1325.0 770.4h0M1328.5 766.9h0M1328.5 770.4h0M1332.0 766.9h0M1335.5 766.9h0M1339.0 766.9h0M1339.0 763.4h0M1342.5 763.4h0M1342.5 766.9h0M1346.0 763.4h0M1346.0 766.9h0M1349.5 763.4h0M1353.0 763.4h0M1356.5 763.4h0M1356.5 759.9h0M1360.0 759.9h0M1360.0 763.4h0M1363.5 759.9h0M1363.5 763.4h0M1367.0 759.9h0M1370.5 759.9h0M1374.0 759.9h0M1374.0 756.4h0M1377.5 756.4h0M1377.5 759.9h0M1381.0 756.4h0M1381.0 759.9h0M1384.5 756.4h0M1388.0 756.4h0M1391.5 756.4h0M1391.5 752.9h0M1395.0 752.9h0M1395.0 756.4h0M1398.5 752.9h0M1398.5 756.4h0M1402.0 752.9h0M1402.0 756.4h0M1405.5 752.9h0M1409.0 752.9h0M1412.5 752.9h0M1412.5 749.4h0M1416.0 749.4h0M1416.0 752.9h0M1419.5 749.4h0M1419.5 752.9h0M1423.0 749.4h0M1423.0 752.9h0M1426.5 749.4h0M1430.0 749.4h0M1433.5 749.4h0M1433.5 745.9h0M1437.0 745.9h0M1437.0 749.4h0M1440.5 745.9h0M1440.5 749.4h0M1444.0 745.9h0M1444.0 749.4h0M1447.5 745.9h0M1451.0 745.9h0M1454.5 745.9h0M1454.5 742.5h0M1458.0 742.5h0M1458.0 745.9h0M1461.5 742.5h0M1461.5 745.9h0M1465.0 742.5h0M1468.5 742.5h0M1472.0 742.5h0M1472.0 739.0h0M1475.5 739.0h0M1475.5 742.5h0M1479.0 739.0h0M1479.0 742.5h0M1482.5 739.0h0M1482.5 742.5h0M1486.0 739.0h0M1489.5 739.0h0M1489.5 735.5h0M1493.0 735.5h0M1493.0 739.0h0M1496.5 735.5h0M1496.5 739.0h0M1500.0 735.5h0M1500.0 739.0h0M1503.5 735.5h0M1507.0 735.5h0M1507.0 732.0h0M1510.5 732.0h0M1510.5 735.5h0M1514.0 732.0h0M1514.0 735.5h0M1517.5 732.0h0M1521.0 732.0h0M1521.0 728.5h0M1524.5 728.5h0M1524.5 732.0h0M1528.0 728.5h0M1528.0 732.0h0M1531.5 728.5h0M1531.5 732.0h0M1535.0 728.5h0M1538.5 728.5h0M1538.5 725.0h0M1542.0 725.0h0M1542.0 728.5h0M1545.5 725.0h0M1545.5 728.5h0M1549.0 725.0h0M1552.5 725.0h0M1556.0 725.0h0M1556.0 721.5h0M1559.5 721.5h0M1559.5 725.0h0M1563.0 721.5h0M1563.0 725.0h0M1566.5 721.5h0M1570.0 721.5h0M1573.5 718.0h0M1573.5 721.5h0M1577.0 718.0h0M1577.0 721.5h0M1580.5 718.0h0M1580.5 721.5h0M1584.0 718.0h0M1587.5 718.0h0M1587.5 714.5h0M1591.0 714.5h0M1591.0 718.0h0M1594.5 714.5h0M1594.5 718.0h0M1598.0 714.5h0M1601.5 714.5h0M1605.0 711.0h0M1605.0 714.5h0M1608.5 711.0h0M1608.5 714.5h0M1612.0 711.0h0M1612.0 714.5h0M1615.5 711.0h0M1619.0 711.0h0M1619.0 707.6h0M1622.5 707.6h0M1622.5 711.0h0M1626.0 707.6h0M1626.0 711.0h0M1629.5 707.6h0M1633.0 707.6h0M1633.0 704.1h0M1636.5 704.1h0M1636.5 707.6h0M1640.0 704.1h0M1640.0 707.6h0M1643.5 704.1h0M1647.0 704.1h0M1647.0 700.6h0M1650.5 700.6h0M1650.5 704.1h0M1654.0 700.6h0M1654.0 704.1h0M1657.5 700.6h0M1661.0 700.6h0M1661.0 697.1h0M1664.5 697.1h0M1664.5 700.6h0M1668.0 697.1h0M1668.0 700.6h0M1671.5 697.1h0M1675.0 697.1h0M1675.0 693.6h0M1678.5 693.6h0M1678.5 697.1h0M1682.0 693.6h0M1682.0 697.1h0M1685.5 693.6h0M1689.0 693.6h0M1689.0 690.1h0M1692.5 690.1h0M1692.5 693.6h0M1696.0 690.1h0M1696.0 693.6h0M1699.5 690.1h0M1699.5 686.6h0M1703.0 686.6h0M1703.0 690.1h0M1706.5 686.6h0M1706.5 690.1h0M1710.0 686.6h0M1713.5 683.1h0M1713.5 686.6h0M1717.0 683.1h0M1717.0 686.6h0M1720.5 683.1h0M1724.0 679.6h0M1724.0 683.1h0M1727.5 679.6h0M1727.5 683.1h0M1731.0 679.6h0M1731.0 676.1h0M1734.5 676.1h0M1734.5 679.6h0M1738.0 676.1h0M1738.0 679.6h0M1741.5 676.1h0M1741.5 672.7h0M1745.0 672.7h0M1745.0 676.1h0M1748.5 672.7h0M1752.0 669.2h0M1752.0 672.7h0M1755.5 669.2h0M1755.5 672.7h0M1759.0 669.2h0M1759.0 665.7h0M1762.5 665.7h0M1762.5 669.2h0M1766.0 665.7h0M1769.5 665.7h0M1769.5 662.2h0M1773.0 662.2h0M1773.0 665.7h0M1776.5 662.2h0M1776.5 658.7h0M1780.0 658.7h0M1780.0 662.2h0M1783.5 658.7h0M1783.5 662.2h0M1787.0 658.7h0M1787.0 655.2h0M1790.5 655.2h0M1790.5 658.7h0M1794.0 655.2h0M1794.0 658.7h0M1797.5 655.2h0M1797.5 651.7h0M1801.0 651.7h0M1801.0 655.2h0M1804.5 651.7h0M1808.0 651.7h0M1808.0 648.2h0M1811.5 648.2h0M1811.5 651.7h0M1815.0 648.2h0M1815.0 644.7h0M1818.5 644.7h0M1818.5 648.2h0M1822.0 644.7h0M1822.0 641.2h0M1825.5 641.2h0M1825.5 644.7h0M1829.0 641.2h0M1829.0 637.8h0M1832.5 637.8h0M1832.5 641.2h0M1836.0 637.8h0M1836.0 634.3h0M1839.5 634.3h0M1839.5 637.8h0M1843.0 634.3h0M1843.0 630.8h0M1846.5 630.8h0M1846.5 634.3h0M1850.0 630.8h0M1850.0 627.3h0M1853.5 627.3h0M1853.5 630.8h0M1857.0 627.3h0M1857.0 623.8h0M1860.5 623.8h0M1860.5 627.3h0M1864.0 623.8h0M1864.0 620.3h0M1867.5 620.3h0M1867.5 623.8h0M1871.0 620.3h0M1871.0 616.8h0M1874.5 616.8h0M1874.5 620.3h0M1878.0 616.8h0M1878.0 613.3h0M1881.5 613.3h0M1881.5 616.8h0M1885.0 613.3h0M1885.0 609.8h0M1888.5 609.8h0M1888.5 613.3h0M1892.0 609.8h0M1892.0 606.3h0M1895.5 606.3h0M1895.5 609.8h0M1899.0 606.3h0M1899.0 602.9h0M1902.5 602.9h0M1902.5 599.4h0M1906.0 599.4h0M1906.0 602.9h0M1909.5 599.4h0M1909.5 595.9h0M1913.0 595.9h0M1913.0 599.4h0M1916.5 592.4h0M1916.5 595.9h0M1920.0 592.4h0M1920.0 588.9h0M1923.5 588.9h0M1923.5 592.4h0M1927.0 588.9h0M1927.0 585.4h0M1930.5 585.4h0M1930.5 581.9h0M1934.0 581.9h0M1934.0 585.4h0M1937.5 581.9h0M1937.5 578.4h0M1941.0 578.4h0M1941.0 581.9h0M1941.0 574.9h0M1944.5 574.9h0M1944.5 578.4h0M1948.0 574.9h0M1948.0 571.4h0M1951.5 571.4h0M1951.5 574.9h0M1955.0 571.4h0M1955.0 568.0h0M1958.5 568.0h0M1962.0 564.5h0M1962.0 568.0h0M1965.5 564.5h0M1965.5 561.0h0M1969.0 561.0h0M1969.0 564.5h0M1972.5 561.0h0M1972.5 557.5h0M1976.0 557.5h0M1976.0 554.0h0M1979.5 554.0h0M1979.5 557.5h0M1983.0 554.0h0M1983.0 550.5h0M1986.5 550.5h0M1986.5 554.0h0M1990.0 547.0h0M1990.0 550.5h0M1993.5 547.0h0M1993.5 543.5h0M1997.0 543.5h0M1997.0 547.0h0M1997.0 540.0h0M2000.5 540.0h0M2000.5 543.5h0M2004.0 540.0h0M2004.0 536.5h0M2007.5 536.5h0M2007.5 540.0h0M2007.5 533.1h0M2011.0 533.1h0M2011.0 536.5h0M2014.5 533.1h0M2014.5 529.6h0M2018.0 529.6h0M2018.0 533.1h0M2018.0 526.1h0M2021.5 526.1h0M2021.5 529.6h0M2025.0 526.1h0M2025.0 522.6h0M2028.5 522.6h0M2028.5 519.1h0M2032.0 519.1h0M2032.0 522.6h0M2035.5 515.6h0M2035.5 519.1h0M2039.0 515.6h0M2039.0 512.1h0M2042.5 512.1h0M2042.5 508.6h0M2046.0 508.6h0M2046.0 512.1h0M2049.5 508.6h0M2049.5 505.1h0M2053.0 505.1h0M2053.0 501.6h0M2056.5 501.6h0M2056.5 505.1h0M2060.0 498.2h0M2060.0 501.6h0M2063.5 498.2h0M2063.5 494.7h0M2067.0 494.7h0M2067.0 498.2h0M2067.0 491.2h0M2070.5 491.2h0M2070.5 494.7h0M2074.0 491.2h0M2074.0 487.7h0M2077.5 487.7h0M2077.5 484.2h0M2081.0 484.2h0M2081.0 487.7h0M2081.0 480.7h0M2084.5 480.7h0M2084.5 484.2h0M2088.0 480.7h0M2088.0 477.2h0M2091.5 477.2h0M2091.5 473.7h0M2095.0 473.7h0M2095.0 470.2h0M2098.5 470.2h0M2098.5 473.7h0M2098.5 466.7h0M2102.0 466.7h0M2102.0 470.2h0M2105.5 466.7h0M2105.5 463.3h0M2109.0 463.3h0M2109.0 459.8h0M2112.5 459.8h0M2112.5 456.3h0M2116.0 456.3h0M2116.0 459.8h0M2119.5 456.3h0M2119.5 452.8h0M2123.0 452.8h0M2123.0 449.3h0M2126.5 449.3h0M2126.5 452.8h0M2126.5 445.8h0M2130.0 445.8h0M2130.0 449.3h0M2133.5 445.8h0M2133.5 442.3h0M2137.0 442.3h0M2137.0 438.8h0M2140.5 438.8h0M2140.5 442.3h0M2144.0 438.8h0M2144.0 435.3h0M2147.5 435.3h0M2147.5 431.8h0M2151.0 431.8h0M2151.0 435.3h0M2154.5 431.8h0M2154.5 428.4h0M2158.0 428.4h0M2158.0 431.8h0M2158.0 424.9h0M2161.5 424.9h0M2161.5 428.4h0M2165.0 424.9h0M2165.0 421.4h0M2168.5 421.4h0M2168.5 424.9h0M2172.0 417.9h0M2172.0 421.4h0M2175.5 417.9h0M2175.5 414.4h0M2179.0 414.4h0M2179.0 417.9h0M2182.5 414.4h0M2182.5 410.9h0M2186.0 410.9h0M2186.0 407.4h0M2189.5 407.4h0M2189.5 410.9h0M2193.0 407.4h0M2193.0 403.9h0M2196.5 403.9h0M2196.5 407.4h0M2200.0 403.9h0M2200.0 400.4h0M2203.5 400.4h0M2203.5 403.9h0M2207.0 396.9h0M2207.0 400.4h0M2210.5 396.9h0M2210.5 393.5h0M2214.0 393.5h0M2214.0 396.9h0M2217.5 393.5h0M2217.5 390.0h0M2221.0 390.0h0M2221.0 393.5h0M2224.5 390.0h0M2224.5 386.5h0M2228.0 386.5h0M2228.0 390.0h0M2231.5 386.5h0M2231.5 383.0h0M2235.0 383.0h0M2235.0 386.5h0M2238.5 383.0h0M2238.5 379.5h0M2242.0 379.5h0M2242.0 383.0h0M2245.5 379.5h0M2245.5 376.0h0M2249.0 376.0h0M2249.0 379.5h0M2252.5 372.5h0M2252.5 376.0h0M2256.0 372.5h0M2256.0 376.0h0M2259.5 372.5h0M2259.5 369.0h0M2263.0 369.0h0M2263.0 372.5h0M2266.5 369.0h0M2266.5 365.5h0M2270.0 365.5h0M2270.0 369.0h0M2273.5 365.5h0M2273.5 362.0h0M2277.0 362.0h0M2277.0 365.5h0M2280.5 362.0h0M2280.5 358.6h0M2284.0 358.6h0M2284.0 362.0h0M2287.5 358.6h0M2287.5 355.1h0M2291.0 355.1h0M2291.0 358.6h0M2294.5 355.1h0M2298.0 355.1h0M2298.0 351.6h0M2301.5 351.6h0M2301.5 355.1h0M2305.0 351.6h0M2305.0 348.1h0M2308.5 348.1h0M2308.5 351.6h0M2312.0 348.1h0M2312.0 344.6h0M2315.5 344.6h0M2315.5 348.1h0M2319.0 344.6h0M2319.0 348.1h0M2322.5 344.6h0M2322.5 341.1h0M2326.0 341.1h0M2326.0 344.6h0M2329.5 341.1h0M2333.0 341.1h0M2333.0 337.6h0M2336.5 337.6h0M2336.5 341.1h0M2340.0 337.6h0M2343.5 334.1h0M2343.5 337.6h0M2347.0 334.1h0M2347.0 337.6h0M2350.5 334.1h0M2354.0 334.1h0M2354.0 330.6h0M2357.5 330.6h0M2357.5 334.1h0M2361.0 330.6h0M2364.5 330.6h0M2364.5 327.1h0M2368.0 327.1h0M2368.0 330.6h0M2371.5 327.1h0M2371.5 330.6h0M2375.0 327.1h0M2378.5 327.1h0M2382.0 323.7h0M2382.0 327.1h0M2385.5 323.7h0M2385.5 327.1h0M2389.0 323.7h0M2389.0 327.1h0M2392.5 323.7h0"/></g>
<rect x="772" y="480.8" width="362" height="84.4" fill="#fff"/><rect x="1788" y="687.4" width="424" height="83.3" fill="#fff"/>
<text transform="translate(783.2 542.6) scale(0.955 1)" font-size="74.9" font-weight="bold" fill="#ff0000">I</text><text transform="translate(804.7 561.5) scale(0.8466 1)" font-size="48.5" font-weight="bold" fill="#ff0000">SENSE</text><text transform="translate(961.3 542.6) scale(0.935 1)" font-size="74.9" font-weight="bold" fill="#ff0000">= 2A</text>
<text transform="translate(1802.4 749.5) scale(0.93 1)" font-size="74.9" font-weight="bold" fill="#0070c0">I</text><text transform="translate(1823.8 768.9) scale(0.845 1)" font-size="48.5" font-weight="bold" fill="#0070c0">SENSE</text><text transform="translate(1980.3 749.5) scale(0.935 1)" font-size="74.9" font-weight="bold" fill="#0070c0">= 0</text><text transform="translate(2084 749.5) scale(0.935 1)" font-size="74.9" font-weight="bold" fill="#0070c0">.2A</text>
<text transform="translate(250 80.7) scale(0.964 1)" font-size="72.2" text-anchor="end">0.81</text><text transform="translate(250 282.7) scale(0.964 1)" font-size="72.2" text-anchor="end">0.8</text><text transform="translate(250 485.7) scale(0.964 1)" font-size="72.2" text-anchor="end">0.79</text><text transform="translate(250 688.2) scale(0.964 1)" font-size="72.2" text-anchor="end">0.78</text><text transform="translate(250 886.7) scale(0.964 1)" font-size="72.2" text-anchor="end">0.77</text><text transform="translate(250 1089.7) scale(0.964 1)" font-size="72.2" text-anchor="end">0.76</text><text transform="translate(250 1292.2) scale(0.964 1)" font-size="72.2" text-anchor="end">0.75</text>
<text transform="translate(826 1351) scale(0.964 1)" font-size="72.2" text-anchor="middle">0.001</text><text transform="translate(1151.5 1351) scale(0.964 1)" font-size="72.2" text-anchor="middle">0.01</text><text transform="translate(1480 1351) scale(0.964 1)" font-size="72.2" text-anchor="middle">0.1</text><text transform="translate(1805.5 1351) scale(0.964 1)" font-size="72.2" text-anchor="middle">1</text><text transform="translate(2131 1351) scale(0.964 1)" font-size="72.2" text-anchor="middle">10</text>
<text class="dv" font-size="61.6" y="1361.6" x="401">1</text><text class="dv" font-size="61.6" transform="translate(437.6 1361.6) scale(0.86 1)">x</text><text class="dv" font-size="61.6" y="1361.6" x="467.5 500.9">10</text><text class="dv" font-size="60.5" y="1329.7" x="538.5 560.3">-4</text>
<defs><clipPath id="bc"><rect x="2200" y="1280" width="225" height="107"/></clipPath></defs><g clip-path="url(#bc)"><text transform="translate(2253.95 1373.8) scale(0.89 1.1)" font-size="102" font-weight="bold">t</text><text transform="translate(2306.6 1373.8) scale(0.845 1)" font-size="102" font-weight="bold">[s]</text></g>
<text transform="translate(99.1 417.5) rotate(-90) scale(0.813 1)" font-size="109.2" font-weight="bold">V</text><text transform="translate(125.1 358.6) rotate(-90) scale(0.753 1)" font-size="73.3" font-weight="bold">F</text><text transform="translate(99.1 298.5) rotate(-90) scale(0.777 1)" font-size="103" font-weight="bold">[</text><text transform="translate(99.1 272.4) rotate(-90) scale(0.813 1)" font-size="109.2" font-weight="bold">V</text><text transform="translate(99.1 213.1) rotate(-90) scale(0.777 1)" font-size="103" font-weight="bold">]</text>
</svg>
</body></html>
